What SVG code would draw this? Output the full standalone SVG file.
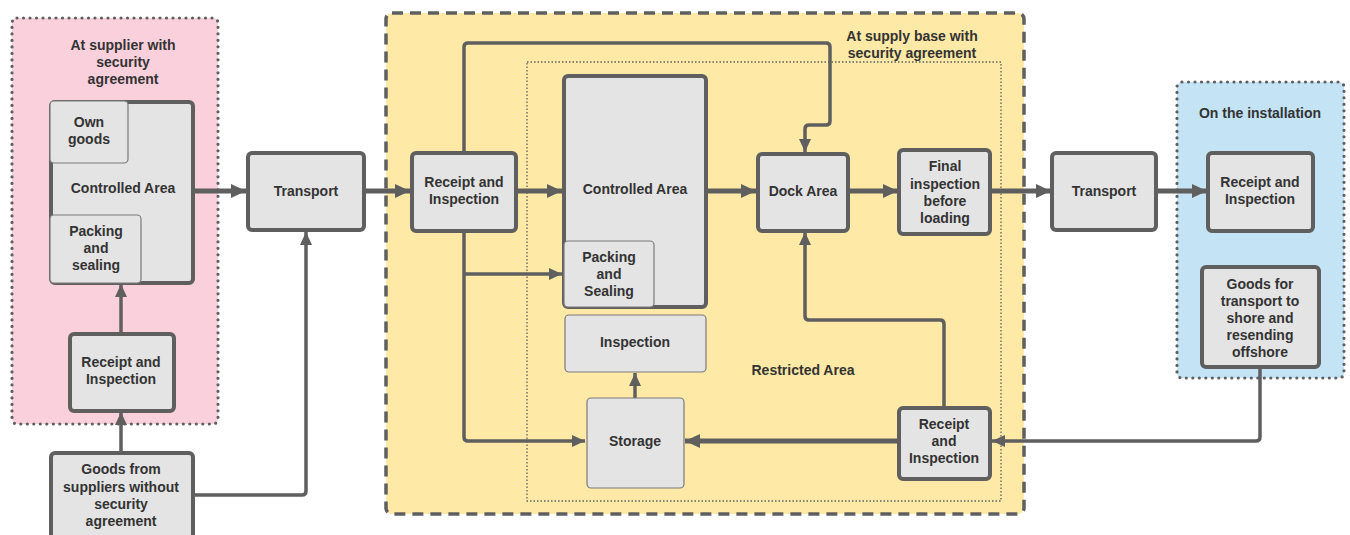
<svg xmlns="http://www.w3.org/2000/svg" width="1350" height="535" viewBox="0 0 1350 535">
<style>
text{font-family:"Liberation Sans",Arial,sans-serif;font-weight:bold;font-size:14px;fill:#333;text-anchor:middle}
.box{fill:#e4e4e4;stroke:#5f5f5f;stroke-width:4}
.thin{fill:#e4e4e4;stroke:#7a7a7a;stroke-width:1.2}
.c{fill:none;stroke:#5f5f5f;stroke-linejoin:round}
.k{stroke-width:5}
.m{stroke-width:3.5}
.dotbox{stroke:#5f5f5f;stroke-width:3.2;stroke-dasharray:0 6.5;stroke-linecap:round}
</style>
<defs>
<marker id="ah" markerUnits="userSpaceOnUse" markerWidth="16" markerHeight="14" refX="15" refY="7" orient="auto"><path d="M0,0 L15,7 L0,14 z" fill="#5f5f5f"/></marker>
<marker id="as" markerUnits="userSpaceOnUse" markerWidth="14" markerHeight="12" refX="13" refY="6" orient="auto"><path d="M0,0 L13,6 L0,12 z" fill="#5f5f5f"/></marker>
</defs>

<g id="container-supplier">
<rect x="12" y="18" width="206" height="406" rx="5" fill="#f9d0dc" class="dotbox"/>
<text x="123" y="50">At supplier with</text>
<text x="123" y="67">security</text>
<text x="123" y="84">agreement</text>
</g>
<g id="container-base">
<rect x="386" y="13" width="638" height="501" rx="6" fill="#ffe9a6" stroke="#5f5f5f" stroke-width="3.5" stroke-dasharray="11 7"/>
<text x="912" y="41">At supply base with</text>
<text x="912" y="58">security agreement</text>
</g>
<g id="container-restricted">
<rect x="527" y="62" width="474" height="439" fill="none" stroke="#5f5f5f" stroke-width="1.3" stroke-dasharray="1.5 2"/>
<text x="803" y="375">Restricted Area</text>
</g>
<g id="container-installation">
<rect x="1177" y="82" width="167" height="296" rx="5" fill="#c4e3f5" class="dotbox"/>
<text x="1260" y="118">On the installation</text>
</g>

<g id="connectors">
<path class="c k" d="M193,191 H246" marker-end="url(#ah)"/>
<path class="c m" d="M121,452 V412" marker-end="url(#as)"/>
<path class="c m" d="M121,333 V284" marker-end="url(#as)"/>
<path class="c m" d="M193,495 H302 Q306,495 306,491 V232" marker-end="url(#as)"/>
<path class="c k" d="M364,191 H410" marker-end="url(#ah)"/>
<path class="c k" d="M516,191 H562" marker-end="url(#ah)"/>
<path class="c m" d="M464,231 V437 Q464,441 468,441 H585" marker-end="url(#as)"/>
<path class="c m" d="M464,274 H562" marker-end="url(#as)"/>
<path class="c m" d="M464,153 V47 Q464,43 468,43 H826 Q830,43 830,47 V121 Q830,125 826,125 H809 Q805,125 805,129 V152" marker-end="url(#as)"/>
<path class="c k" d="M706,191 H756" marker-end="url(#ah)"/>
<path class="c k" d="M848,191 H898" marker-end="url(#ah)"/>
<path class="c k" d="M990,191 H1051" marker-end="url(#ah)"/>
<path class="c k" d="M1156,191 H1207" marker-end="url(#ah)"/>
<path class="c m" d="M1260,367 V437 Q1260,441 1256,441 H992" marker-end="url(#as)"/>
<path class="c k" d="M898,441 H685" marker-end="url(#ah)"/>
<path class="c m" d="M944,407 V324 Q944,320 940,320 H809 Q805,320 805,316 V232" marker-end="url(#as)"/>
<path class="c m" d="M635,398 V373" marker-end="url(#as)"/>
</g>

<g id="controlled-area-supplier">
<rect class="box" x="51" y="102" width="142" height="181" rx="4"/>
<text x="123" y="193">Controlled Area</text>
</g>
<g id="own-goods">
<rect class="thin" x="50" y="101" width="78" height="62" rx="4"/>
<text x="89" y="127">Own</text>
<text x="89" y="144">goods</text>
</g>
<g id="packing-sealing-supplier">
<rect class="thin" x="50" y="215" width="91" height="68" rx="4"/>
<text x="96" y="236">Packing</text>
<text x="96" y="253">and</text>
<text x="96" y="270">sealing</text>
</g>
<g id="receipt-supplier">
<rect class="box" x="70" y="334" width="104" height="77" rx="4"/>
<text x="121" y="367">Receipt and</text>
<text x="121" y="384">Inspection</text>
</g>
<g id="goods-without">
<rect class="box" x="51" y="453" width="142" height="90" rx="4"/>
<text x="121" y="474">Goods from</text>
<text x="121" y="492">suppliers without</text>
<text x="121" y="509">security</text>
<text x="121" y="526">agreement</text>
</g>
<g id="transport-1">
<rect class="box" x="248" y="153" width="116" height="77" rx="4"/>
<text x="306" y="196">Transport</text>
</g>
<g id="receipt-base">
<rect class="box" x="412" y="153" width="104" height="78" rx="4"/>
<text x="464" y="187">Receipt and</text>
<text x="464" y="204">Inspection</text>
</g>
<g id="controlled-area-base">
<rect class="box" x="564" y="76" width="142" height="231" rx="4"/>
<text x="635" y="194">Controlled Area</text>
</g>
<g id="packing-sealing-base">
<rect class="thin" x="564" y="241" width="90" height="66" rx="4"/>
<text x="609" y="262">Packing</text>
<text x="609" y="279">and</text>
<text x="609" y="296">Sealing</text>
</g>
<g id="inspection">
<rect class="thin" x="565" y="315" width="141" height="57" rx="4"/>
<text x="635" y="347">Inspection</text>
</g>
<g id="storage">
<rect class="thin" x="587" y="398" width="97" height="90" rx="4"/>
<text x="635" y="446">Storage</text>
</g>
<g id="dock-area">
<rect class="box" x="758" y="154" width="90" height="77" rx="4"/>
<text x="803" y="196">Dock Area</text>
</g>
<g id="final-inspection">
<rect class="box" x="899" y="150" width="91" height="84" rx="4"/>
<text x="945" y="171">Final</text>
<text x="945" y="189">inspection</text>
<text x="945" y="206">before</text>
<text x="945" y="223">loading</text>
</g>
<g id="receipt-return">
<rect class="box" x="899" y="408" width="91" height="71" rx="4"/>
<text x="944" y="429">Receipt</text>
<text x="944" y="446">and</text>
<text x="944" y="463">Inspection</text>
</g>
<g id="transport-2">
<rect class="box" x="1052" y="153" width="104" height="77" rx="4"/>
<text x="1104" y="196">Transport</text>
</g>
<g id="receipt-installation">
<rect class="box" x="1208" y="153" width="105" height="78" rx="4"/>
<text x="1260" y="187">Receipt and</text>
<text x="1260" y="204">Inspection</text>
</g>
<g id="goods-shore">
<rect class="box" x="1202" y="267" width="117" height="100" rx="4"/>
<text x="1260" y="289">Goods for</text>
<text x="1260" y="306">transport to</text>
<text x="1260" y="323">shore and</text>
<text x="1260" y="340">resending</text>
<text x="1260" y="357">offshore</text>
</g>
</svg>
